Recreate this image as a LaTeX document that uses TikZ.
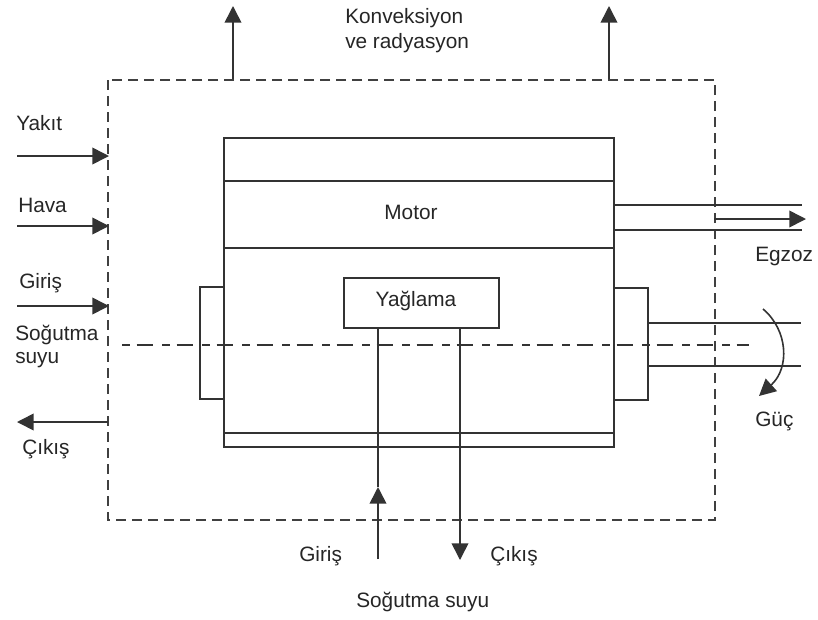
\documentclass[tikz,border=0pt]{standalone}
\usepackage{fontspec}
\setmainfont{Liberation Sans}
\usetikzlibrary{arrows.meta}
\tikzset{
  ln/.style={line width=1.2pt,black!80},
  arr/.style={ln,-{Triangle[length=12.5pt,width=12.5pt]}},
  lab/.style={font=\fontsize{15.6pt}{18pt}\selectfont,text=black!85,inner sep=0pt,align=left},
  dsh/.style={line width=1.5pt,black!75,dash pattern=on 7.5pt off 4.5pt},
  cdsh/.style={line width=1.4pt,black!80,dash pattern=on 6pt off 5pt on 12.5pt off 6.5pt},
  box/.style={ln,fill=white,draw,inner sep=0pt,outer sep=0pt,anchor=north west}
}
\begin{document}
\begin{tikzpicture}[x=0.75pt,y=-0.75pt]
\useasboundingbox (0,0) rectangle (818,619);
\fill[white] (0,0) rectangle (818,619);
% system boundary
\draw[dsh] (108,80) rectangle (715,520);
% flanges
\node[box,minimum width=24*0.75pt,minimum height=112*0.75pt] (fl) at (200,287) {};
\node[box,minimum width=34*0.75pt,minimum height=112*0.75pt] (fr) at (614,288) {};
% motor body
\draw[ln] (224,138) rectangle (614,447);
\draw[ln] (224,181) -- (614,181);
\draw[ln] (224,248) -- (614,248);
\draw[ln] (224,433) -- (614,433);
% shaft
\draw[ln] (648,323) -- (801,323);
\draw[ln] (648,366) -- (801,366);
% exhaust
\draw[ln] (614,205) -- (802,205);
\draw[ln] (614,230) -- (802,230);
\coordinate (e0) at (714,219); \coordinate (e1) at (806,219);
\draw[arr] (e0) -- (e1);
% lube
\node[box,minimum width=155*0.75pt,minimum height=50*0.75pt] (yag) at (344,278) {};
\node[lab] at (416,301) {Yağlama};
\node[lab] at (411,212) {Motor};
% centre line
\draw[cdsh] (122,345) -- (749,345);
% lube pipes
\coordinate (g0) at (378,559); \coordinate (g1) at (378,487);
\coordinate (g2) at (378,328); \coordinate (c0) at (460,328); \coordinate (c1) at (460,560);
\draw[ln] (g1) -- (g2);
\draw[arr] (g0) -- (g1);
\draw[arr] (c0) -- (c1);
% top arrows
\coordinate (t1a) at (233,79); \coordinate (t1b) at (233,6);
\coordinate (t2a) at (609,79); \coordinate (t2b) at (609,6);
\draw[arr] (t1a) -- (t1b);
\draw[arr] (t2a) -- (t2b);
% left arrows
\coordinate (y0) at (17,156); \coordinate (y1) at (109,156);
\coordinate (h0) at (17,226); \coordinate (h1) at (109,226);
\coordinate (i0) at (17,306); \coordinate (i1) at (109,306);
\coordinate (o0) at (108,422); \coordinate (o1) at (17,422);
\draw[arr] (y0) -- (y1);
\draw[arr] (h0) -- (h1);
\draw[arr] (i0) -- (i1);
\draw[arr] (o0) -- (o1);
% power arc
\coordinate (p0) at (763,309); \coordinate (p1) at (759,396);
\draw[arr] (p0) .. controls (788,330) and (790,368) .. (p1);
% labels
\node[lab,anchor=west] at (345,18) {Konveksiyon};
\node[lab,anchor=west] at (345,43) {ve radyasyon};
\node[lab,anchor=west] at (16,123) {Yakıt};
\node[lab,anchor=west] at (18,205) {Hava};
\node[lab,anchor=west] at (19,283) {Giriş};
\node[lab,anchor=west] at (15,335) {Soğutma};
\node[lab,anchor=west] at (15,360) {suyu};
\node[lab,anchor=west] at (22,449) {Çıkış};
\node[lab,anchor=west] at (755,256) {Egzoz};
\node[lab,anchor=west] at (755,421) {Güç};
\node[lab,anchor=west] at (299,556) {Giriş};
\node[lab,anchor=west] at (490,556) {Çıkış};
\node[lab,anchor=west] at (356,602) {Soğutma suyu};
\end{tikzpicture}
\end{document}
